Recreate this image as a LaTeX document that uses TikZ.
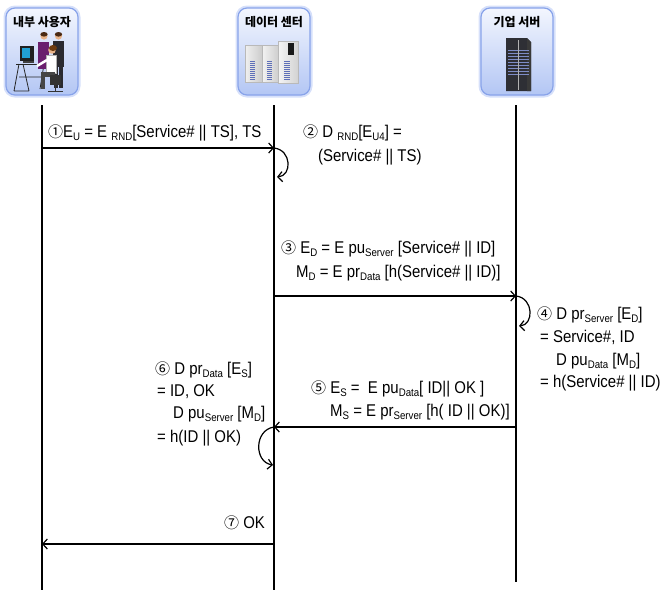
\documentclass[tikz,border=0pt]{standalone}
\usepackage{fontspec}
\setmainfont{Liberation Sans}[FakeStretch=0.88]
\newfontfamily\krfont{Noto Sans CJK KR}
\newfontfamily\numfont{Noto Sans CJK KR}
\usetikzlibrary{arrows.meta}

\definecolor{boxtop}{HTML}{F3F6FE}
\definecolor{boxbot}{HTML}{B3C6F4}
\definecolor{boxedge}{HTML}{88A3EA}
\definecolor{halo}{HTML}{D6E0FA}
\definecolor{skin}{HTML}{E8B48A}
\definecolor{hair}{HTML}{4A2A14}
\definecolor{suit}{HTML}{2A2A30}
\definecolor{jacket}{HTML}{6A1F6E}
\definecolor{stripe}{HTML}{5E6FB8}
\definecolor{tower}{HTML}{2E2F35}

% subscript set lower and smaller than the running text
\newcommand\lsub[1]{\raisebox{-3pt}{\fontsize{11}{11}\selectfont #1}}
% circled step number
\newcommand\cnum[1]{{\numfont\fontsize{15}{15}\selectfont #1}}

\begin{document}
\begin{tikzpicture}[x=1pt,y=-1pt,
  actor/.style={draw=boxedge, line width=1.2pt, rounded corners=9pt,
    top color=boxtop, bottom color=boxbot,
    preaction={draw=halo, line width=5pt},
    minimum width=72pt, minimum height=87pt, inner sep=0pt},
  title/.style={font=\krfont\bfseries\fontsize{12}{12}\selectfont, inner sep=0pt},
  life/.style={line width=1.2pt, black},
  msg/.style={line width=1.2pt, black, -{Straight Barb[length=4.5pt,width=10pt,line width=1.2pt]}},
  lbl/.style={anchor=base west, inner sep=0pt, font=\fontsize{17}{19}\selectfont}]
\useasboundingbox (0,0) rectangle (662,590);

% ---- participant boxes ----
\node[actor] (u) at (42,51.5) {};
\node[actor] (d) at (274,51.5) {};
\node[actor] (s) at (517,51.5) {};
\node[title] (ut) at (42,22) {내부 사용자};
\node[title] (dt) at (274,22) {데이터 센터};
\node[title] (st) at (517,22) {기업 서버};

% users at a workstation
\draw[line width=1pt, gray!30!black] (16,64) -- (50,64);
\draw[line width=0.8pt, gray!30!black] (19,64) -- (14,91) (23,64) -- (29,91) (14,91) -- (29,91)
  (44,64) -- (40,89) (19,77) -- (44,77);
\fill[suit] (53,41) rectangle (64,67);
\fill[suit] (54,67) rectangle (58,88);
\fill[suit] (59,67) rectangle (63,88);
\fill[skin] (58.5,36) circle (3.6);
\fill[hair] (58.5,34.3) ellipse (3.7 and 2.3);
\fill[jacket] (38,42) rectangle (49,69);
\fill[skin] (44,36) circle (3.6);
\fill[hair] (44,34.3) ellipse (3.7 and 2.3);
\fill[gray!25!black] (20,46) rectangle (34,61);
\fill[cyan!70!teal] (22,48) rectangle (30,58);
\fill[gray!50!black] (23,61) rectangle (34,63);
\fill[white] (46,55) rectangle (56,73);
\draw[gray!60, line width=0.5pt] (46,55) rectangle (56,73);
\draw[white, line width=2.5pt] (47,60) -- (37,66);
\fill[skin] (52,50) circle (3.8);
\fill[hair!80!orange] (53,48) ellipse (4 and 3);
\fill[gray!55!black] (41,72) rectangle (55,77);
\fill[gray!55!black] (41,77) rectangle (45,89);
\fill[gray!40!black] (50,75) rectangle (61,85);
\draw[line width=1pt, gray!40!black] (55,85) -- (55,91) (48,91) -- (63,91);

% data-centre cabinets
\shade[left color=gray!12, right color=gray!40] (245,45) rectangle (262,82);
\shade[left color=gray!10, right color=gray!38] (262,45) rectangle (278,82);
\shade[left color=gray!8, right color=gray!35] (278,41) rectangle (298,83);
\draw[gray!55, line width=0.4pt] (245,45) rectangle (262,82) (262,45) rectangle (278,82) (278,41) rectangle (298,83);
\fill[gray!20!black] (288,43) rectangle (294,55);
\foreach \yy in {61,63,...,79} {
  \fill[stripe] (250,\yy) rectangle (255,\yy+1);
  \fill[stripe] (267,\yy) rectangle (272,\yy+1);
  \fill[stripe] (284,\yy) rectangle (290,\yy+1);
}

% enterprise server tower
\fill[tower] (506,38) -- (527,38) -- (531,42) -- (531,91) -- (506,91) -- cycle;
\fill[gray!45!black] (527,38) -- (531,42) -- (531,91) -- (527,91) -- cycle;
\foreach \yy in {50,53,...,74} {
  \draw[stripe!80!white, line width=0.8pt] (508,\yy) -- (529,\yy);
}
\draw[gray!60, line width=0.5pt] (518,40) -- (518,90);

% ---- lifelines ----
\coordinate (u0) at (42,105);  \coordinate (u1) at (42,590);
\coordinate (d0) at (274,105); \coordinate (d1) at (274,590);
\coordinate (s0) at (516,105); \coordinate (s1) at (516,582);
\draw[life] (u0) -- (u1);
\draw[life] (d0) -- (d1);
\draw[life] (s0) -- (s1);

% ---- message end points ----
\coordinate (m1a) at (42,148);  \coordinate (m1b) at (274,148);
\coordinate (r2)  at (277,177);
\coordinate (m3a) at (274,296); \coordinate (m3b) at (516,296);
\coordinate (r4)  at (519,326);
\coordinate (m5a) at (516,427); \coordinate (m5b) at (274,427);
\coordinate (r6)  at (273,465);
\coordinate (m7a) at (274,544); \coordinate (m7b) at (42,544);

\draw[msg] (m1a) -- (m1b);
\draw[msg] (m1b) .. controls (292,150) and (292,176) .. (r2);
\draw[msg] (m3a) -- (m3b);
\draw[msg] (m3b) .. controls (534,298) and (534,325) .. (r4);
\draw[msg] (m5a) -- (m5b);
\draw[msg] (m5b) .. controls (254,430) and (254,462) .. (r6);
\draw[msg] (m7a) -- (m7b);

% ---- labels ----
\node[lbl] (t1) at (48,137) {\cnum{①}E\lsub{U} = E \lsub{RND}[Service\# || TS], TS};
\node[lbl] (t2a) at (303,137) {\cnum{②} D \lsub{RND}[E\lsub{U4}] =};
\node[lbl] (t2b) at (318,161) {(Service\# || TS)};
\node[lbl] (t3a) at (281,253) {\cnum{③} E\lsub{D} = E pu\lsub{Server} [Service\# || ID]};
\node[lbl] (t3b) at (296,277) {M\lsub{D} = E pr\lsub{Data} [h(Service\# || ID)]};
\node[lbl] (t4a) at (537,319) {\cnum{④} D pr\lsub{Server} [E\lsub{D}]};
\node[lbl] (t4b) at (540,342) {= Service\#, ID};
\node[lbl] (t4c) at (556,365) {D pu\lsub{Data} [M\lsub{D}]};
\node[lbl] (t4d) at (540,387) {= h(Service\# || ID)};
\node[lbl] (t5a) at (311,393) {\cnum{⑤} E\lsub{S} =\ \ E pu\lsub{Data}[ ID|| OK ]};
\node[lbl] (t5b) at (330,416) {M\lsub{S} = E pr\lsub{Server} [h( ID || OK)]};
\node[lbl] (t6a) at (155,374) {\cnum{⑥} D pr\lsub{Data} [E\lsub{S}]};
\node[lbl] (t6b) at (157,396) {= ID, OK};
\node[lbl] (t6c) at (173,418) {D pu\lsub{Server} [M\lsub{D}]};
\node[lbl] (t6d) at (157,442) {= h(ID || OK)};
\node[lbl] (t7) at (224,528) {\cnum{⑦} OK};
\end{tikzpicture}
\end{document}
